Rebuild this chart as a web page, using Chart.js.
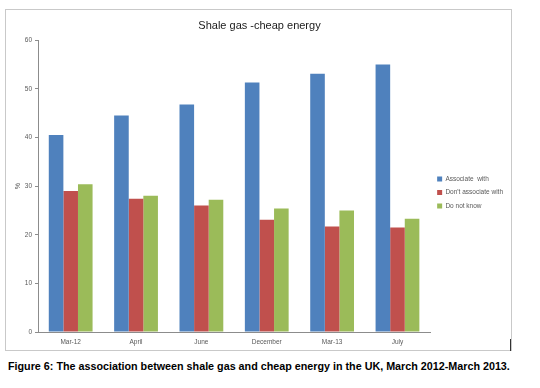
<!DOCTYPE html>
<html>
<head>
<meta charset="utf-8">
<script src="https://cdn.jsdelivr.net/npm/chart.js@4"></script>
<style>
  html, body { margin: 0; padding: 0; background: #fff; }
  body { width: 540px; height: 388px; position: relative; overflow: hidden; font-family: "Liberation Sans", Arial, sans-serif; }
  #frame { position: absolute; left: 5px; top: 9px; width: 505px; height: 340px; border: 1px solid #c9c9c9; }
  #wrap { position: absolute; left: 6px; top: 10px; width: 504px; height: 339px; }
  #mark { position: absolute; left: 510px; top: 339px; width: 1px; height: 12px; background: #333; }
  #caption { position: absolute; left: 8px; top: 360px; white-space: nowrap; font-weight: bold; color: #000; }
</style>
</head>
<body>
<div id="frame"></div>
<div id="mark"></div>
<div id="wrap"><canvas id="chart"></canvas></div>
<div id="caption">Figure 6: The association between shale gas and cheap energy in the UK, March 2012-March 2013.</div>
<script>
const categories = ["Mar-12", "April", "June", "December", "Mar-13", "July"]
const associate = [40.5, 44.5, 46.8, 51.3, 53.1, 55.0]
const dontAssociate = [29.0, 27.4, 26.0, 23.1, 21.7, 21.5]
const doNotKnow = [30.4, 28.0, 27.2, 25.4, 25.0, 23.3]
const yTicks = [0, 10, 20, 30, 40, 50, 60]

const font = "'Liberation Sans', Arial, sans-serif"
Chart.defaults.font.family = font

// caption fitted to the reference width
const cap = document.getElementById("caption")
const mctx = document.createElement("canvas").getContext("2d")
mctx.font = "bold 100px " + font
const capSize = 100 * 502 / mctx.measureText(cap.textContent).width
cap.style.fontSize = capSize + "px"

const ctx = document.getElementById("chart").getContext("2d")
new Chart(ctx, {
  type: "bar",
  data: {
    labels: categories,
    datasets: [
      { label: "Associate  with", data: associate, backgroundColor: "#4F81BD" },
      { label: "Don't associate with", data: dontAssociate, backgroundColor: "#C0504D" },
      { label: "Do not know", data: doNotKnow, backgroundColor: "#9BBB59" },
    ],
  },
  options: {
    responsive: true,
    maintainAspectRatio: false,
    animation: false,
    categoryPercentage: 0.67,
    barPercentage: 1,
    layout: { padding: { left: 0, right: -3, top: 0, bottom: 0 } },
    plugins: {
      title: {
        display: true,
        text: "Shale gas -cheap energy",
        color: "#1a1a1a",
        font: { size: 11, weight: "normal" },
        padding: { top: 9, bottom: 8 },
      },
      legend: {
        position: "right",
        title: { display: true, text: " ", font: { size: 6.5 }, padding: { top: 9, bottom: 9 } },
        labels: {
          boxWidth: 5,
          boxHeight: 5,
          padding: 7,
          color: "#595959",
          font: { size: 6.5 },
        },
      },
      tooltip: { enabled: false },
    },
    scales: {
      x: {
        grid: { display: false, drawTicks: false },
        border: { color: "#8c8c8c" },
        ticks: { color: "#595959", font: { size: 6.5 }, padding: 6, maxRotation: 0 },
        afterFit: (scale) => { scale.height = 17 },
      },
      y: {
        min: 0,
        max: 60,
        afterBuildTicks: (scale) => { scale.ticks = yTicks.map((v) => ({ value: v })) },
        grid: { drawOnChartArea: false, tickLength: 3, color: "#8c8c8c" },
        border: { color: "#8c8c8c" },
        ticks: { color: "#595959", font: { size: 6.5 }, padding: 3 },
        title: { display: true, text: "%", color: "#595959", font: { size: 7 }, padding: { top: 8, bottom: 0 } },
        afterFit: (scale) => { scale.width = 32 },
      },
    },
  },
})
</script>
</body>
</html>
